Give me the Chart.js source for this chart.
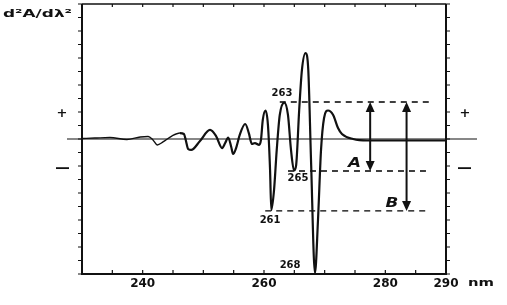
<!DOCTYPE html>
<html><head><meta charset="utf-8">
<script src="https://cdn.jsdelivr.net/npm/chart.js@4.4.0/dist/chart.umd.min.js"></script>
<style>html,body{margin:0;padding:0;background:#fff}#wrap{width:507px;height:305px}</style>
</head><body><div id="wrap"><canvas id="c" width="507" height="305"></canvas></div>
<script>
// wavelength (nm) and second-derivative values
const wavelengths = [230,232.1,234.6,237.4,239.6,240.9,241.7,242.4,243.35,244.8,246.15,246.8,247.1,247.5,248.0,249.45,251.1,252.1,253.1,253.6,254.1,254.6,254.9,255.4,256.0,256.9,257.5,258.0,258.5,259.2,259.5,259.8,260.25,260.65,261.0,261.2,261.65,262.1,262.6,263.35,263.95,264.45,264.95,265.3,265.8,266.25,266.85,267.3,267.75,268.4,268.9,269.4,269.9,270.55,271.4,272.2,272.85,274.7,277.0,282.4,290];
const d2Values = [0.04,0.07,0.11,-0.04,0.15,0.19,-0.07,-0.44,-0.22,0.22,0.44,0.37,-0.07,-0.74,-0.81,-0.15,0.67,0.22,-0.67,-0.3,0.11,-0.59,-1.11,-0.67,0.3,1.11,0.44,-0.37,-0.3,-0.44,-0.07,1.41,2.11,1.04,-2.3,-5.26,-3.8,-0.8,1.78,2.7,1.78,-0.8,-2.33,-1.93,2.15,5.11,6.37,5.11,-1.55,-9.93,-6.0,-0.81,1.56,2.11,1.78,0.81,0.37,0.0,-0.11,-0.11,-0.11];
const xTickLabels = [240,260,280,290];
const yTickValues = [-10,-9,-8,-7,-6,-5,-4,-3,-2,-1,0,1,2,3,4,5,6,7,8,9,10];
// reference levels (dashed) : level value, start wavelength
const refLevels = [2.74,-2.37,-5.33];
const refStarts = [262.6,263.95,260.2];
const refEnd = 287.4;
// double arrows A and B
const arrowNames = ['A','B'];
const arrowX = [277.5,283.5];
const arrowTop = [2.74,2.74];
const arrowBottom = [-2.37,-5.33];
const peakNames = ['263','265','261','268'];
const peakLabelX = [262.97,265.6,261.0,264.3];
const peakLabelY = [3.41,-2.89,-6.0,-9.33];

const datasets = [{
  data: wavelengths.map((w,i)=>({x:w,y:d2Values[i]})),
  borderColor:'#111', borderWidth:2.2, pointRadius:0, fill:false,
  cubicInterpolationMode:'monotone',
  segment:{borderWidth: c => (c.p0.parsed.x < 246 ? 1.4 : 2.2)}
}];
refLevels.forEach((lv,i)=>{
  datasets.push({data:[{x:refStarts[i],y:lv},{x:refEnd,y:lv}],borderColor:'#000',borderWidth:1.3,borderDash:[6,5],pointRadius:0,fill:false,tension:0});
});

function stretchText(ctx,txt,x,y,sx){
  ctx.save(); ctx.translate(x,y); ctx.scale(sx,1); ctx.fillText(txt,0,0); ctx.restore();
}

const deco = {
  id:'deco',
  afterDatasetsDraw(chart){
    const ctx=chart.ctx, xs=chart.scales.x, ys=chart.scales.y, a=chart.chartArea;
    ctx.save();
    ctx.strokeStyle='#111'; ctx.fillStyle='#111';
    // baseline
    const y0=ys.getPixelForValue(0);
    ctx.lineWidth=1.1; ctx.beginPath(); ctx.moveTo(a.left-15,y0); ctx.lineTo(a.right+31,y0); ctx.stroke();
    // frame
    ctx.lineWidth=2;
    ctx.beginPath(); ctx.moveTo(a.left,a.top); ctx.lineTo(a.left,a.bottom); ctx.lineTo(a.right,a.bottom); ctx.lineTo(a.right,a.top); ctx.stroke();
    ctx.lineWidth=1.5; ctx.beginPath(); ctx.moveTo(a.left,a.top); ctx.lineTo(a.right,a.top); ctx.stroke();
    // y ticks outward
    ctx.lineWidth=1.2;
    yTickValues.forEach(v=>{const p=ys.getPixelForValue(v);ctx.beginPath();ctx.moveTo(a.left-4,p);ctx.lineTo(a.left,p);ctx.moveTo(a.right,p);ctx.lineTo(a.right+4,p);ctx.stroke();});
    // x ticks inward
    for(let v=230; v<=290; v+=5){const p=xs.getPixelForValue(v);ctx.beginPath();ctx.moveTo(p,a.bottom);ctx.lineTo(p,a.bottom-4);ctx.moveTo(p,a.top);ctx.lineTo(p,a.top+3);ctx.stroke();}
    // +/- signs
    ctx.font='bold 13px "DejaVu Sans"'; ctx.textAlign='center'; ctx.textBaseline='middle';
    const yp=ys.getPixelForValue(1.85), ym=ys.getPixelForValue(-2.15);
    ctx.fillText('+',a.left-20,yp); ctx.fillText('+',a.right+19,yp);
    ctx.fillRect(a.left-26,ym-0.8,13,1.8); ctx.fillRect(a.right+12,ym-0.8,13,1.8);
    // arrows
    arrowX.forEach((xv,i)=>{
      const px=xs.getPixelForValue(xv), t=ys.getPixelForValue(arrowTop[i]), b=ys.getPixelForValue(arrowBottom[i]);
      ctx.lineWidth=2; ctx.beginPath(); ctx.moveTo(px,t+8); ctx.lineTo(px,b-8); ctx.stroke();
      ctx.beginPath(); ctx.moveTo(px,t); ctx.lineTo(px-4.5,t+10); ctx.lineTo(px+4.5,t+10); ctx.closePath(); ctx.fill();
      ctx.beginPath(); ctx.moveTo(px,b); ctx.lineTo(px-4.5,b-10); ctx.lineTo(px+4.5,b-10); ctx.closePath(); ctx.fill();
    });
    ctx.font='italic bold 14px "DejaVu Sans"';
    const lblA=[[274.9,-1.78],[281.1,-4.74]];
    arrowNames.forEach((n,i)=>stretchText(ctx,n,xs.getPixelForValue(lblA[i][0]),ys.getPixelForValue(lblA[i][1]),1.2));
    // peak labels
    ctx.font='bold 10px "DejaVu Sans"';
    peakNames.forEach((n,i)=>ctx.fillText(n,xs.getPixelForValue(peakLabelX[i]),ys.getPixelForValue(peakLabelY[i])));
    // axis titles
    ctx.font='bold 11px "DejaVu Sans"'; ctx.textAlign='left';
    const tw=ctx.measureText('d²A/dλ²').width;
    stretchText(ctx,'d²A/dλ²',3,14,69/tw);
    ctx.textAlign='center';
    stretchText(ctx,'nm',a.right+35,a.bottom+9.5,1.35);
    ctx.restore();
  }
};

new Chart(document.getElementById('c'),{
  type:'line',
  data:{datasets},
  options:{
    responsive:false, animation:false, events:[],
    layout:{padding:{left:0,right:61,top:4,bottom:0}},
    plugins:{legend:{display:false},tooltip:{enabled:false}},
    scales:{
      x:{type:'linear',min:230,max:290,
        grid:{display:false,drawTicks:false},border:{display:false},
        ticks:{stepSize:5,autoSkip:false,maxRotation:0,padding:3,color:'#111',font:{family:'DejaVu Sans',weight:'bold',size:12},
          callback:v=>xTickLabels.includes(v)?String(v):''},
        afterFit:s=>{s.height=31;}},
      y:{type:'linear',min:-10,max:10,
        grid:{display:false,drawTicks:false},border:{display:false},
        ticks:{display:false},
        afterFit:s=>{s.width=82;}}
    }
  },
  plugins:[deco]
});
</script></body></html>
